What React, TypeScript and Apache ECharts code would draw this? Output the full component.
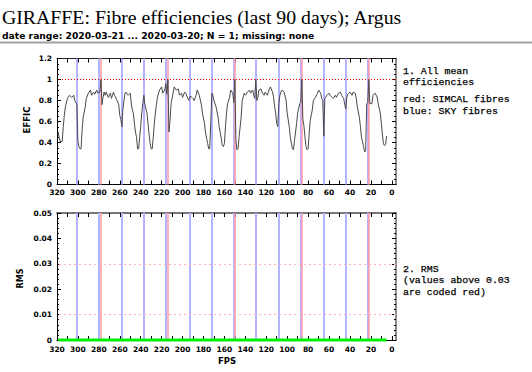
import React, { useEffect, useRef } from "react";
import * as echarts from "echarts";

const xTickValues = [0, 10, 20, 30, 40, 50, 60, 70, 80, 90, 100, 110, 120, 130, 140, 150, 160, 170, 180, 190, 200, 210, 220, 230, 240, 250, 260, 270, 280, 290, 300, 310, 320];
const xLabelValues = [0, 20, 40, 60, 80, 100, 120, 140, 160, 180, 200, 220, 240, 260, 280, 300, 320];

const skyFibres = [301, 280, 258, 237, 216, 193, 172, 151, 130, 108, 87, 65, 44, 23];
const simcalFibres = [278, 214, 150, 86, 22];

const effRefLines = [1.0];
const rmsRefLines = [0.01, 0.03];

const efficiency: [number, number][] = [
  [319, 0.5], [318, 0.45], [317, 0.41], [315, 0.41], [314, 0.55], [313, 0.66], [312, 0.74], [310, 0.82],
  [308, 0.85], [306, 0.83], [304, 0.85], [303, 0.8], [302, 0.78], [301, 0.76], [300, 0.41], [299, 0.36],
  [298, 0.34], [297, 0.34], [296, 0.52], [295, 0.64], [293, 0.74], [292, 0.82], [290, 0.87], [288, 0.9],
  [287, 0.85], [285, 0.88], [284, 0.86], [282, 0.9], [281, 0.87], [279, 0.88], [278, 1.0], [277, 0.76],
  [276, 0.83], [275, 0.88], [274, 0.85], [273, 0.88], [271, 0.83], [269, 0.87], [268, 0.82], [266, 0.88],
  [265, 0.85], [263, 0.81], [261, 0.76], [260, 0.66], [259, 0.62], [258, 0.55], [257, 0.72], [256, 0.8],
  [255, 0.87], [254, 0.88], [253, 0.86], [252, 0.85], [250, 0.87], [249, 0.77], [248, 0.71], [247, 0.68],
  [246, 0.58], [245, 0.5], [244, 0.45], [243, 0.34], [242, 0.34], [241, 0.45], [240, 0.55], [239, 0.68],
  [238, 0.77], [237, 0.85], [236, 0.76], [235, 0.72], [234, 0.68], [233, 0.58], [232, 0.48], [231, 0.39],
  [230, 0.34], [229, 0.34], [228, 0.45], [227, 0.58], [226, 0.68], [225, 0.76], [224, 0.83], [222, 0.9],
  [220, 0.93], [219, 0.87], [217, 0.9], [216, 0.96], [215, 0.86], [214, 1.0], [213, 0.5], [212, 0.61],
  [211, 0.77], [209, 0.87], [208, 0.93], [206, 0.9], [204, 0.91], [203, 0.85], [201, 0.87], [200, 0.83],
  [198, 0.88], [197, 0.87], [195, 0.82], [194, 0.8], [193, 0.84], [191, 0.83], [190, 0.82], [189, 0.8],
  [187, 0.85], [186, 0.9], [184, 0.85], [182, 0.76], [181, 0.68], [179, 0.58], [178, 0.49], [176, 0.39],
  [175, 0.34], [174, 0.34], [173, 0.6], [172, 0.87], [171, 0.85], [170, 0.8], [168, 0.74], [166, 0.64],
  [165, 0.55], [163, 0.44], [162, 0.37], [161, 0.36], [160, 0.39], [159, 0.55], [158, 0.68], [157, 0.77],
  [155, 0.83], [154, 0.9], [152, 0.87], [151, 0.78], [150, 1.0], [149, 0.42], [148, 0.33], [147, 0.34],
  [146, 0.45], [144, 0.64], [143, 0.8], [141, 0.87], [140, 0.85], [138, 0.88], [136, 0.9], [135, 0.87],
  [133, 0.9], [132, 0.85], [131, 0.82], [130, 1.0], [129, 0.8], [128, 0.83], [127, 0.9], [125, 0.91],
  [124, 0.88], [122, 0.85], [121, 0.88], [119, 0.85], [117, 0.91], [116, 0.93], [114, 0.88], [113, 0.83],
  [112, 0.74], [111, 0.68], [110, 0.58], [109, 0.55], [108, 0.77], [107, 0.85], [106, 0.88], [105, 0.9],
  [103, 0.88], [101, 0.8], [100, 0.68], [98, 0.55], [97, 0.45], [95, 0.34], [94, 0.33], [93, 0.42],
  [91, 0.58], [90, 0.68], [88, 0.77], [87, 0.78], [86, 1.0], [85, 0.62], [84, 0.56], [83, 0.45],
  [82, 0.36], [81, 0.33], [80, 0.34], [79, 0.48], [78, 0.61], [76, 0.71], [75, 0.8], [73, 0.83],
  [71, 0.87], [70, 0.9], [68, 0.87], [67, 0.82], [66, 0.8], [65, 0.46], [64, 0.82], [62, 0.85],
  [61, 0.86], [60, 0.87], [59, 0.85], [57, 0.83], [56, 0.82], [54, 0.85], [53, 0.83], [51, 0.87],
  [49, 0.88], [48, 0.85], [46, 0.82], [45, 0.76], [44, 0.72], [43, 0.83], [42, 0.86], [41, 0.87],
  [40, 0.88], [38, 0.85], [37, 0.88], [35, 0.87], [34, 0.82], [33, 0.74], [31, 0.64], [30, 0.55],
  [29, 0.45], [27, 0.36], [26, 0.31], [25, 0.32], [24, 0.77], [23, 0.78], [22, 1.0], [21, 0.77],
  [19, 0.77], [18, 0.85], [16, 0.87], [14, 0.83], [13, 0.77], [11, 0.68], [10, 0.58], [9, 0.48],
  [8, 0.39], [7, 0.37], [6, 0.38], [5, 0.46],
];

const rms: [number, number][] = [[319, 0], [160, 0], [5, 0]];

const tickFont = {
  fontFamily: '"DejaVu Sans", sans-serif',
  fontWeight: "bold" as const,
  fontSize: 7.5,
  color: "#000",
};

function makeXAxes(gridIndex: number, labelMargin: number, topColor: string, topWidth: number) {
  const common = {
    type: "value" as const,
    gridIndex,
    min: -4,
    max: 320,
    inverse: true,
    splitLine: { show: false },
  };
  return [
    {
      ...common,
      position: "bottom" as const,
      axisLine: { show: true, onZero: false, lineStyle: { color: "#000", width: 1 } },
      axisTick: { show: true, inside: true, length: 4, customValues: xTickValues, lineStyle: { color: "#000" } },
      axisLabel: { show: true, customValues: xLabelValues, margin: labelMargin, ...tickFont },
    },
    {
      ...common,
      position: "top" as const,
      axisLine: { show: true, onZero: false, lineStyle: { color: topColor, width: topWidth } },
      axisTick: { show: true, inside: true, length: 4, customValues: xTickValues, lineStyle: { color: "#000" } },
      axisLabel: { show: false },
    },
  ];
}

function makeYAxes(gridIndex: number, max: number, interval: number, minorSplit: number) {
  const common = {
    type: "value" as const,
    gridIndex,
    min: 0,
    max,
    interval,
    splitLine: { show: false },
    minorSplitLine: { show: false },
    minorTick: { show: true, splitNumber: minorSplit, length: 2, lineStyle: { color: "#000" } },
    axisTick: { show: true, inside: true, length: 4, lineStyle: { color: "#000" } },
  };
  return [
    {
      ...common,
      position: "left" as const,
      axisLine: { show: true, onZero: false, lineStyle: { color: "#000", width: 1 } },
      axisLabel: { show: true, margin: 5, ...tickFont },
    },
    {
      ...common,
      position: "right" as const,
      axisLine: { show: true, onZero: false, lineStyle: { color: "#666", width: 1.5 } },
      axisLabel: { show: false },
    },
  ];
}

function verticalMarks(xAxisIndex: number, yAxisIndex: number, fibres: number[], color: string, width: number, z: number) {
  return {
    type: "line" as const,
    xAxisIndex,
    yAxisIndex,
    data: [],
    silent: true,
    z,
    markLine: {
      silent: true,
      symbol: ["none", "none"],
      label: { show: false },
      lineStyle: { color, width, type: "solid" as const, opacity: 1 },
      emphasis: { disabled: true },
      data: fibres.map((f) => ({ xAxis: f })),
    },
  };
}

function horizontalMarks(xAxisIndex: number, yAxisIndex: number, values: number[], color: string, width: number, dash: number[]) {
  return {
    type: "line" as const,
    xAxisIndex,
    yAxisIndex,
    data: [],
    silent: true,
    z: 3,
    markLine: {
      silent: true,
      symbol: ["none", "none"],
      label: { show: false },
      lineStyle: { color, width, type: dash, opacity: 1 },
      emphasis: { disabled: true },
      data: values.map((v) => ({ yAxis: v })),
    },
  };
}

const sideFont = '9.9px "Liberation Mono", monospace';
const sideLine = 11.3;

function sideText(x: number, firstCenterY: number, text: string) {
  return {
    type: "text",
    x,
    y: firstCenterY - sideLine / 2,
    style: { text, font: sideFont, fill: "#000", stroke: "#000", lineWidth: 0.25, verticalAlign: "top", lineHeight: sideLine },
  };
}

export default function App() {
  const ref = useRef<HTMLDivElement>(null);

  useEffect(() => {
    if (!ref.current) return;
    const chart = echarts.init(ref.current, undefined, { renderer: "svg" });
    const option = {
      animation: false,
      backgroundColor: "#fff",
      grid: [
        { left: 57, top: 58.5, width: 339, height: 126 },
        { left: 57, top: 213, width: 339, height: 127 },
      ],
      xAxis: [...makeXAxes(0, 4, "#222", 1), ...makeXAxes(1, 5, "#777", 2)],
      yAxis: [...makeYAxes(0, 1.2, 0.2, 4), ...makeYAxes(1, 0.05, 0.01, 5)],
      series: [
        verticalMarks(0, 0, skyFibres, "#b4b4ff", 2, 1),
        verticalMarks(0, 0, simcalFibres, "#ff9ca4", 1.5, 2),
        horizontalMarks(0, 0, effRefLines, "#ff0000", 1, [1, 2]),
        {
          type: "line",
          xAxisIndex: 0,
          yAxisIndex: 0,
          data: efficiency,
          symbol: "none",
          silent: true,
          z: 5,
          lineStyle: { color: "#4a4a4a", width: 1 },
        },
        verticalMarks(2, 2, skyFibres, "#b4b4ff", 2, 1),
        verticalMarks(2, 2, simcalFibres, "#ff9ca4", 1.5, 2),
        horizontalMarks(2, 2, rmsRefLines, "#ffb0b0", 1, [2, 3]),
        {
          type: "line",
          xAxisIndex: 2,
          yAxisIndex: 2,
          data: rms,
          symbol: "none",
          silent: true,
          z: 6,
          clip: false,
          lineStyle: { color: "#00ee00", width: 3 },
        },
      ],
      graphic: [
        {
          type: "text",
          x: 2,
          y: 16.5,
          style: {
            text: "GIRAFFE: Fibre efficiencies (last 90 days); Argus",
            font: '19.8px "Liberation Serif", serif',
            fill: "#000",
            verticalAlign: "middle",
          },
        },
        {
          type: "text",
          x: 2,
          y: 35.3,
          style: {
            text: "date range: 2020-03-21 ... 2020-03-20; N = 1; missing: none",
            font: 'bold 9.2px "DejaVu Sans", sans-serif',
            fill: "#000",
            verticalAlign: "middle",
          },
        },
        {
          type: "line",
          shape: { x1: 0, y1: 42.5, x2: 532, y2: 42.5 },
          style: { stroke: "#a0a0a0", lineWidth: 2 },
        },
        sideText(403, 71.3, "1. All mean\nefficiencies"),
        sideText(403, 99.9, "red: SIMCAL fibres\nblue: SKY fibres"),
        sideText(403, 269.7, "2. RMS\n(values above 0.03\nare coded red)"),
        {
          type: "text",
          x: 27,
          y: 120,
          rotation: Math.PI / 2,
          style: { text: "EFFIC", font: 'bold 8.5px "DejaVu Sans", sans-serif', fill: "#000", align: "center", verticalAlign: "middle" },
        },
        {
          type: "text",
          x: 20.7,
          y: 278.5,
          rotation: Math.PI / 2,
          style: { text: "RMS", font: 'bold 8px "DejaVu Sans", sans-serif', fill: "#000", align: "center", verticalAlign: "middle" },
        },
        {
          type: "text",
          x: 227,
          y: 361,
          style: { text: "FPS", font: 'bold 8.5px "DejaVu Sans", sans-serif', fill: "#000", align: "center", verticalAlign: "middle" },
        },
      ],
    };
    chart.setOption(option as any);
    return () => {
      chart.dispose();
    };
  }, []);

  return (
    <div
      ref={ref}
      style={{ position: "fixed", left: 0, top: 0, width: 532, height: 372, background: "#fff" }}
    />
  );
}
